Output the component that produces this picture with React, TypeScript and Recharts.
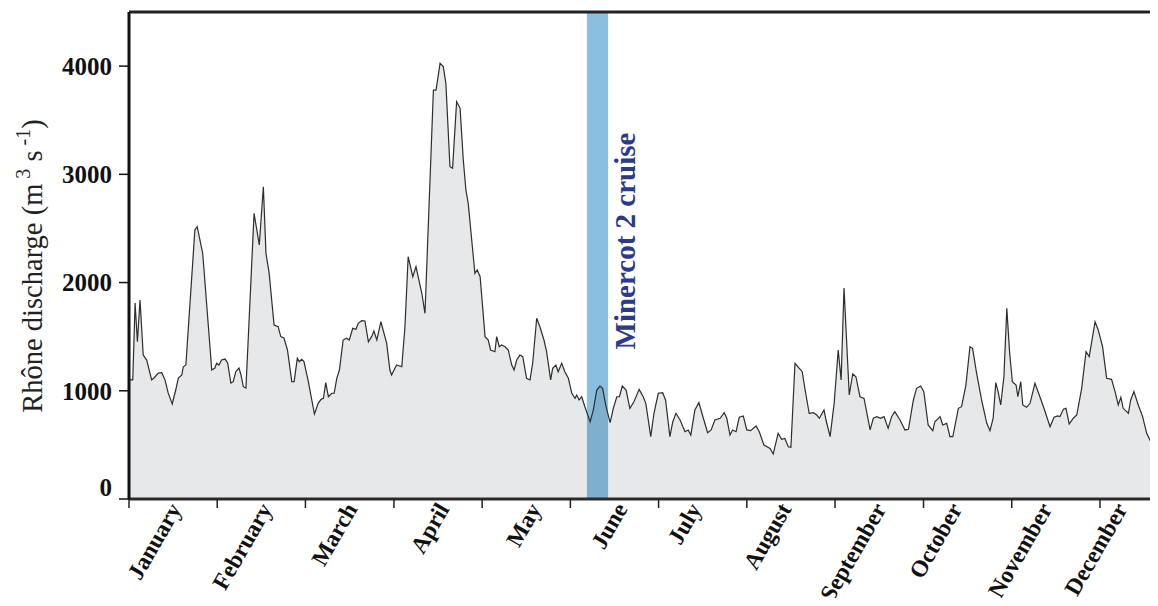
import React from 'react';
import { AreaChart, Area, XAxis, YAxis, ReferenceArea, ReferenceLine } from 'recharts';

// Day of year (0 = 1 January) of each vertex
const dischargeDays = [
  0, 1.3, 2.1, 2.9, 3.8, 4.9, 6.1, 7.8, 8.6, 10.1,
  11.3, 12.4, 13.5, 14.9, 16.1, 17.0, 18.2, 18.7, 19.6, 22.7,
  23.5, 25.4, 27.9, 28.5, 29.6, 30.2, 31.0, 31.9, 33.1, 34.0,
  35.1, 35.9, 36.8, 37.9, 38.6, 39.4, 40.3, 43.1, 44.9, 46.3,
  47.2, 48.3, 50.0, 51.4, 52.3, 53.4, 54.6, 56.1, 56.9, 58.0,
  58.7, 59.5, 60.3, 61.8, 63.9, 65.2, 66.2, 67.0, 67.8, 68.7,
  69.9, 70.7, 71.6, 72.5, 73.8, 75.0, 75.9, 77.1, 78.2, 79.0,
  80.2, 81.3, 82.5, 83.6, 84.4, 85.4, 86.8, 88.8, 89.9, 90.5,
  92.2, 94.0, 95.1, 96.2, 97.8, 98.9, 100.9, 102.0, 104.9, 105.8,
  107.2, 108.3, 109.2, 110.6, 111.5, 112.9, 114.1, 115.2, 116.1, 116.9,
  119.2, 120.0, 121.0, 122.7, 123.8, 124.6, 126.1, 126.7, 127.6, 128.4,
  129.6, 130.7, 131.9, 132.7, 133.6, 134.7, 135.7, 137.0, 138.2, 139.1,
  140.5, 141.6, 143.0, 143.9, 145.3, 146.0, 147.1, 147.9, 149.1, 150.2,
  151.4, 152.6, 153.7, 154.3, 155.1, 156.0, 157.1, 158.9, 160.0, 161.2,
  162.3, 163.2, 164.4, 165.8, 166.9, 168.1, 169.0, 170.0, 171.3, 172.6,
  174.0, 175.8, 177.2, 178.1, 179.8, 180.9, 182.4, 183.9, 184.9, 186.4,
  187.4, 188.5, 189.9, 191.6, 192.7, 193.6, 195.0, 196.4, 197.6, 199.4,
  200.6, 201.9, 203.7, 205.1, 206.0, 207.1, 208.0, 209.2, 210.3, 211.7,
  212.9, 214.2, 216.1, 217.2, 218.8, 220.9, 222.0, 223.7, 224.9, 226.0,
  227.2, 228.1, 229.5, 231.0, 232.0, 233.0, 234.4, 235.8, 237.0, 237.9,
  239.5, 240.2, 241.6, 243.0, 244.4, 245.4, 246.4, 248.2, 249.4, 250.5,
  251.9, 253.3, 255.4, 256.5, 257.7, 259.0, 260.2, 261.6, 262.8, 263.9,
  265.7, 267.4, 268.6, 270.3, 271.4, 272.8, 273.9, 275.4, 277.0, 277.7,
  279.5, 280.4, 281.8, 282.9, 283.9, 285.8, 286.9, 288.4, 289.8, 290.7,
  292.1, 293.8, 295.6, 296.7, 297.8, 298.7, 299.5, 300.4, 301.5, 302.5,
  303.4, 304.4, 305.7, 306.3, 307.3, 308.0, 309.3, 310.5, 312.2, 313.9,
  315.3, 317.4, 318.8, 320.0, 320.8, 322.0, 322.9, 324.0, 325.4, 326.6,
  328.3, 329.8, 330.9, 332.9, 334.0, 335.5, 336.9, 338.6, 339.8, 340.9,
  341.8, 342.6, 344.4, 345.2, 346.3, 347.8, 349.3, 350.7, 352.1, 353.0,
  354.4, 356.0,
];

// Rhône discharge (m3 s-1) at each vertex
const dischargeValues = [
  1100, 1100, 1811, 1453, 1839, 1330, 1284, 1100, 1118, 1164,
  1167, 1100, 980, 878, 1007, 1118, 1146, 1222, 1238, 2485,
  2516, 2270, 1407, 1192, 1210, 1254, 1238, 1284, 1293, 1257,
  1072, 1084, 1176, 1210, 1146, 1038, 1026, 2640, 2347, 2886,
  2270, 2085, 1608, 1592, 1500, 1488, 1377, 1084, 1084, 1300,
  1269, 1291, 1269, 1084, 785, 884, 921, 930, 1075, 945,
  977, 977, 1115, 1192, 1469, 1485, 1469, 1577, 1568, 1623,
  1648, 1645, 1453, 1500, 1552, 1469, 1638, 1438, 1192, 1146,
  1238, 1222, 1592, 2239, 2054, 2147, 1901, 1716, 3779, 3779,
  4026, 3995, 3841, 3070, 3056, 3671, 3610, 3132, 2855, 2732,
  2085, 2116, 2054, 1500, 1469, 1377, 1361, 1500, 1407, 1423,
  1407, 1377, 1238, 1192, 1284, 1330, 1315, 1115, 1100, 1254,
  1670, 1592, 1469, 1361, 1100, 1207, 1238, 1176, 1254, 1176,
  1115, 977, 930, 961, 915, 945, 853, 714, 822, 1007,
  1044, 1023, 853, 705, 838, 945, 945, 1044, 1007, 838,
  899, 1013, 945, 884, 576, 792, 977, 982, 915, 576,
  714, 792, 730, 622, 638, 591, 822, 890, 776, 613,
  638, 730, 746, 797, 746, 591, 638, 622, 755, 767,
  638, 631, 675, 622, 499, 468, 416, 607, 551, 560,
  483, 478, 1254, 1207, 1176, 1007, 792, 797, 776, 746,
  822, 730, 576, 884, 1377, 1100, 1950, 961, 1155, 1130,
  945, 930, 638, 746, 761, 746, 761, 653, 761, 807,
  730, 638, 644, 915, 1023, 1044, 992, 684, 631, 714,
  761, 684, 699, 576, 576, 838, 853, 1053, 1407, 1392,
  1161, 915, 699, 631, 746, 1075, 992, 869, 1130, 1762,
  1377, 1084, 1053, 945, 1084, 869, 847, 884, 1069, 945,
  838, 668, 755, 767, 761, 829, 838, 693, 746, 776,
  1023, 1361, 1315, 1638, 1562, 1407, 1115, 1106, 992, 869,
  940, 838, 792, 915, 992, 869, 761, 607, 530, 545,
  638, 660,
];

const monthNames = [
  'January', 'February', 'March', 'April', 'May', 'June',
  'July', 'August', 'September', 'October', 'November', 'December',
];
const monthStarts = [0, 30.4, 60.8, 91.3, 121.7, 152.1, 182.5, 212.9, 243.3, 273.8, 304.2, 334.6];
// Where the end of each (rotated) month label sits, in days
const monthLabelDays = [18.3, 49.6, 78.9, 110.6, 142.3, 172.0, 197.5, 228.5, 261.2, 287.4, 318.4, 344.3];
const yTicks = [0, 1000, 2000, 3000, 4000];
const yMax = 4500;
const xMax = 354.6; // the figure is cut off at this day
const cruiseStart = 157.8;
const cruiseEnd = 165.1;
const cruiseLabel = 'Minercot 2 cruise';

const data = dischargeDays.map((d, i) => ({ day: d, q: dischargeValues[i] }));

const SERIF = "'Liberation Serif', 'Times New Roman', Times, serif";

const YTick = (props: any) => {
  const { x, y, payload } = props;
  const shift = payload.value === 0 ? -12 : 0;
  return (
    <text x={x} y={y + shift} dy="0.35em" textAnchor="end" fontFamily={SERIF}
      fontWeight="bold" fontSize={25} fill="#111">
      {payload.value}
    </text>
  );
};

const MonthTick = (props: any) => {
  const { x, y, payload } = props;
  const idx = monthLabelDays.indexOf(payload.value);
  const ax = x;
  const ay = y;
  return (
    <text x={ax} y={ay} transform={`rotate(-60 ${ax} ${ay})`} textAnchor="end"
      fontFamily={SERIF} fontWeight="bold" fontSize={23.5} fill="#111">
      {monthNames[idx]}
    </text>
  );
};

const EmptyTick = () => <g />;

const YLabel = (props: any) => {
  const vb = props.viewBox || { x: 0, y: 0 };
  const x = vb.x + 34;
  const y = vb.y + 254;
  return (
    <text x={x} y={y} transform={`rotate(-90 ${x} ${y})`} textAnchor="middle"
      fontFamily={SERIF} fontSize={28.5} fill="#222">
      <tspan>Rhône discharge (m</tspan>
      <tspan dy={-12} fontSize={20}> 3</tspan>
      <tspan dy={12}> s</tspan>
      <tspan dy={-12} fontSize={20}> -1</tspan>
      <tspan dy={12}>)</tspan>
    </text>
  );
};

const CruiseLabel = (props: any) => {
  const vb = props.viewBox || { x: 0, y: 0, width: 0 };
  const x = vb.x + vb.width + 27;
  const y = vb.y + 229;
  return (
    <text x={x} y={y} transform={`rotate(-90 ${x} ${y})`} textAnchor="middle"
      fontFamily={SERIF} fontWeight="bold" fontSize={29} fill="#2b3a8a">
      {cruiseLabel}
    </text>
  );
};

export default function App() {
  return (
    <div style={{ width: 1150, height: 598, marginBottom: -8, overflow: 'hidden', background: '#fff' }}>
      <AreaChart width={1150} height={598} data={data}
        margin={{ top: 4, right: 0, left: 0, bottom: 0 }}>
        <XAxis xAxisId={0} dataKey="day" type="number" domain={[0, xMax]} ticks={monthStarts}
          interval={0} height={10} tickSize={9} tick={EmptyTick}
          axisLine={{ stroke: '#2a2a2a', strokeWidth: 3 }}
          tickLine={{ stroke: '#222', strokeWidth: 1.5 }} allowDataOverflow />
        <XAxis xAxisId="lab" dataKey="day" type="number" domain={[0, xMax]} ticks={monthLabelDays}
          interval={0} height={97} tickSize={0} tickMargin={0} tick={MonthTick}
          axisLine={false} tickLine={false} allowDataOverflow />
        <YAxis type="number" domain={[0, yMax]} ticks={yTicks} interval={0} width={121}
          tickSize={10} tickMargin={7} tick={YTick}
          axisLine={{ stroke: '#111', strokeWidth: 3 }}
          tickLine={{ stroke: '#111', strokeWidth: 1.5 }}
          label={YLabel} allowDataOverflow />
        <ReferenceArea x1={cruiseStart} x2={cruiseEnd} y1={0} y2={yMax}
          fill="#8bbfe0" fillOpacity={1} stroke="none" label={CruiseLabel} />
        <Area type="linear" dataKey="q" stroke="#2d2d2d" strokeWidth={1.2}
          fill="#1f2937" fillOpacity={0.11} dot={false} activeDot={false}
          isAnimationActive={false} />
        <ReferenceLine y={yMax} stroke="#222" strokeWidth={3} />
      </AreaChart>
    </div>
  );
}
